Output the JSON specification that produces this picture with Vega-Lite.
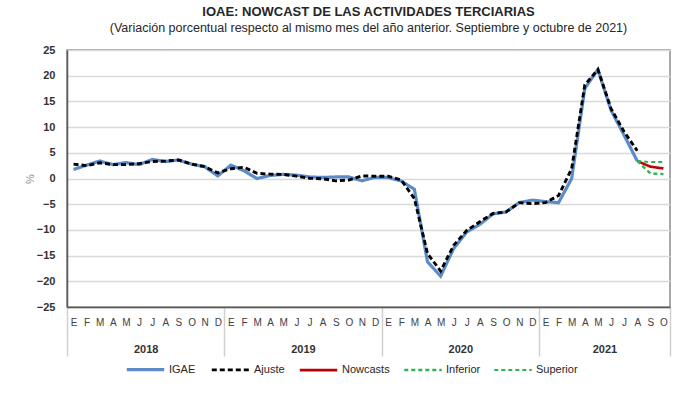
{
  "$schema": "https://vega.github.io/schema/vega-lite/v6.json",
  "width": 603,
  "height": 257,
  "padding": {"left": 24, "top": 5, "right": 10, "bottom": 5},
  "background": "white",
  "title": {
    "text": "IOAE: NOWCAST DE LAS ACTIVIDADES TERCIARIAS",
    "subtitle": "(Variación porcentual respecto al mismo mes del año anterior. Septiembre y octubre de 2021)",
    "anchor": "middle",
    "font": "Liberation Sans",
    "fontSize": 13,
    "fontWeight": "bold",
    "color": "#262626",
    "subtitleFont": "Liberation Sans",
    "subtitleFontSize": 12.5,
    "subtitleColor": "#262626",
    "subtitlePadding": 3,
    "offset": 10
  },
  "config": {
    "font": "Liberation Sans",
    "view": {"stroke": "#8c8c8c", "strokeWidth": 1.5}
  },
  "data": {
    "values": [
      {"i": 0, "serie": "IGAE", "v": 1.75}, {"i": 1, "serie": "IGAE", "v": 2.6}, {"i": 2, "serie": "IGAE", "v": 3.4}, {"i": 3, "serie": "IGAE", "v": 2.7}, {"i": 4, "serie": "IGAE", "v": 3.1}, {"i": 5, "serie": "IGAE", "v": 2.7}, {"i": 6, "serie": "IGAE", "v": 3.7}, {"i": 7, "serie": "IGAE", "v": 3.3}, {"i": 8, "serie": "IGAE", "v": 3.6}, {"i": 9, "serie": "IGAE", "v": 2.8}, {"i": 10, "serie": "IGAE", "v": 2.3}, {"i": 11, "serie": "IGAE", "v": 0.5},
      {"i": 12, "serie": "IGAE", "v": 2.6}, {"i": 13, "serie": "IGAE", "v": 1.5}, {"i": 14, "serie": "IGAE", "v": 0.0}, {"i": 15, "serie": "IGAE", "v": 0.6}, {"i": 16, "serie": "IGAE", "v": 0.8}, {"i": 17, "serie": "IGAE", "v": 0.65}, {"i": 18, "serie": "IGAE", "v": 0.3}, {"i": 19, "serie": "IGAE", "v": 0.2}, {"i": 20, "serie": "IGAE", "v": 0.3}, {"i": 21, "serie": "IGAE", "v": 0.3}, {"i": 22, "serie": "IGAE", "v": -0.45}, {"i": 23, "serie": "IGAE", "v": 0.2},
      {"i": 24, "serie": "IGAE", "v": 0.2}, {"i": 25, "serie": "IGAE", "v": -0.5}, {"i": 26, "serie": "IGAE", "v": -2.1}, {"i": 27, "serie": "IGAE", "v": -16.2}, {"i": 28, "serie": "IGAE", "v": -19.0}, {"i": 29, "serie": "IGAE", "v": -13.6}, {"i": 30, "serie": "IGAE", "v": -10.4}, {"i": 31, "serie": "IGAE", "v": -8.9}, {"i": 32, "serie": "IGAE", "v": -6.9}, {"i": 33, "serie": "IGAE", "v": -6.5}, {"i": 34, "serie": "IGAE", "v": -4.7}, {"i": 35, "serie": "IGAE", "v": -4.2},
      {"i": 36, "serie": "IGAE", "v": -4.5}, {"i": 37, "serie": "IGAE", "v": -4.7}, {"i": 38, "serie": "IGAE", "v": 0.0}, {"i": 39, "serie": "IGAE", "v": 17.5}, {"i": 40, "serie": "IGAE", "v": 21.2}, {"i": 41, "serie": "IGAE", "v": 13.3}, {"i": 42, "serie": "IGAE", "v": 8.4}, {"i": 43, "serie": "IGAE", "v": 3.4},
      {"i": 0, "serie": "Ajuste", "v": 2.8}, {"i": 1, "serie": "Ajuste", "v": 2.5}, {"i": 2, "serie": "Ajuste", "v": 3.05}, {"i": 3, "serie": "Ajuste", "v": 2.7}, {"i": 4, "serie": "Ajuste", "v": 2.7}, {"i": 5, "serie": "Ajuste", "v": 2.9}, {"i": 6, "serie": "Ajuste", "v": 3.3}, {"i": 7, "serie": "Ajuste", "v": 3.4}, {"i": 8, "serie": "Ajuste", "v": 3.6}, {"i": 9, "serie": "Ajuste", "v": 2.8}, {"i": 10, "serie": "Ajuste", "v": 2.3}, {"i": 11, "serie": "Ajuste", "v": 1.1},
      {"i": 12, "serie": "Ajuste", "v": 1.9}, {"i": 13, "serie": "Ajuste", "v": 2.2}, {"i": 14, "serie": "Ajuste", "v": 1.0}, {"i": 15, "serie": "Ajuste", "v": 0.85}, {"i": 16, "serie": "Ajuste", "v": 0.8}, {"i": 17, "serie": "Ajuste", "v": 0.45}, {"i": 18, "serie": "Ajuste", "v": 0.05}, {"i": 19, "serie": "Ajuste", "v": -0.05}, {"i": 20, "serie": "Ajuste", "v": -0.45}, {"i": 21, "serie": "Ajuste", "v": -0.3}, {"i": 22, "serie": "Ajuste", "v": 0.5}, {"i": 23, "serie": "Ajuste", "v": 0.45},
      {"i": 24, "serie": "Ajuste", "v": 0.45}, {"i": 25, "serie": "Ajuste", "v": -0.3}, {"i": 26, "serie": "Ajuste", "v": -3.9}, {"i": 27, "serie": "Ajuste", "v": -14.6}, {"i": 28, "serie": "Ajuste", "v": -18.0}, {"i": 29, "serie": "Ajuste", "v": -13.0}, {"i": 30, "serie": "Ajuste", "v": -10.1}, {"i": 31, "serie": "Ajuste", "v": -8.4}, {"i": 32, "serie": "Ajuste", "v": -6.8}, {"i": 33, "serie": "Ajuste", "v": -6.5}, {"i": 34, "serie": "Ajuste", "v": -4.7}, {"i": 35, "serie": "Ajuste", "v": -4.9},
      {"i": 36, "serie": "Ajuste", "v": -4.7}, {"i": 37, "serie": "Ajuste", "v": -3.3}, {"i": 38, "serie": "Ajuste", "v": 1.9}, {"i": 39, "serie": "Ajuste", "v": 18.2}, {"i": 40, "serie": "Ajuste", "v": 21.2}, {"i": 41, "serie": "Ajuste", "v": 13.6}, {"i": 42, "serie": "Ajuste", "v": 9.1}, {"i": 43, "serie": "Ajuste", "v": 5.4},
      {"i": 43, "serie": "Nowcasts", "v": 3.4}, {"i": 44, "serie": "Nowcasts", "v": 2.3}, {"i": 45, "serie": "Nowcasts", "v": 1.95},
      {"i": 43, "serie": "Inferior", "v": 3.4}, {"i": 44, "serie": "Inferior", "v": 1.0}, {"i": 45, "serie": "Inferior", "v": 0.85},
      {"i": 43, "serie": "Superior", "v": 3.4}, {"i": 44, "serie": "Superior", "v": 3.2}, {"i": 45, "serie": "Superior", "v": 3.2}
    ]
  },
  "encoding": {
    "y": {
      "field": "v",
      "type": "quantitative",
      "scale": {"domain": [-25, 25], "nice": false, "zero": false},
      "axis": {
        "title": "%",
        "titleColor": "#8c8c8c",
        "titleFontWeight": "normal",
        "titleFontSize": 11,
        "titlePadding": 1,
        "values": [-25, -20, -15, -10, -5, 0, 5, 10, 15, 20, 25],
        "labelFontWeight": "bold",
        "labelFontSize": 11,
        "labelColor": "#333333",
        "labelPadding": 12,
        "ticks": false,
        "domainColor": "#595959",
        "domainWidth": 1.5,
        "gridColor": "#d9d9d9",
        "gridWidth": 1.5
      }
    },
    "color": {
      "field": "serie",
      "type": "nominal",
      "scale": {
        "domain": ["IGAE", "Ajuste", "Nowcasts", "Inferior", "Superior"],
        "range": ["#5b8cc8", "#000000", "#c00000", "#2fb350", "#2fb350"]
      },
      "legend": {
        "title": null,
        "orient": "none",
        "direction": "horizontal",
        "legendX": 58,
        "legendY": 299,
        "symbolType": "stroke",
        "symbolSize": 1400,
        "symbolStrokeWidth": 3,
        "labelFontSize": 11,
        "labelColor": "#262626",
        "labelOffset": 3,
        "columnPadding": 9
      }
    },
    "strokeDash": {
      "field": "serie",
      "type": "nominal",
      "scale": {
        "domain": ["IGAE", "Ajuste", "Nowcasts", "Inferior", "Superior"],
        "range": [[1, 0], [5, 3], [1, 0], [4, 3], [4, 3]]
      },
      "legend": null
    },
    "strokeWidth": {
      "field": "serie",
      "type": "nominal",
      "scale": {
        "domain": ["IGAE", "Ajuste", "Nowcasts", "Inferior", "Superior"],
        "range": [3.2, 2, 3, 1.6, 1.6]
      },
      "legend": null
    }
  },
  "layer": [
    {
      "transform": [{"filter": "datum.serie === 'IGAE'"}],
      "mark": {"type": "line"},
      "encoding": {
        "x": {
          "field": "i",
          "type": "quantitative",
          "scale": {"domain": [-0.5, 45.5], "nice": false, "zero": false},
          "axis": {
            "orient": "bottom",
            "title": null,
            "values": [0,1,2,3,4,5,6,7,8,9,10,11,12,13,14,15,16,17,18,19,20,21,22,23,24,25,26,27,28,29,30,31,32,33,34,35,36,37,38,39,40,41,42,43,44,45],
            "labelExpr": "['E','F','M','A','M','J','J','A','S','O','N','D'][datum.value % 12]",
            "labelFontSize": 10,
            "labelColor": "#404040",
            "labelPadding": 10,
            "labelFlush": false,
            "labelOverlap": false,
            "ticks": false,
            "grid": false,
            "domainColor": "#595959",
            "domainWidth": 1.5,
            "zindex": 2
          }
        }
      }
    },
    {
      "transform": [{"filter": "datum.serie === 'Ajuste'"}],
      "mark": {"type": "line"},
      "encoding": {
        "x": {
          "field": "i",
          "type": "quantitative",
          "axis": {
            "orient": "bottom",
            "title": null,
            "values": [5.5, 17.5, 29.5, 40.5],
            "labelExpr": "datum.value < 12 ? '2018' : datum.value < 24 ? '2019' : datum.value < 36 ? '2020' : '2021'",
            "labelFontSize": 11,
            "labelFontWeight": "bold",
            "labelColor": "#333333",
            "labelPadding": 36,
            "labelFlush": false,
            "ticks": false,
            "grid": false,
            "domain": false
          }
        }
      }
    },
    {
      "transform": [{"filter": "datum.serie !== 'IGAE' && datum.serie !== 'Ajuste'"}],
      "mark": {"type": "line"},
      "encoding": {
        "x": {
          "field": "i",
          "type": "quantitative",
          "axis": {
            "orient": "bottom",
            "title": null,
            "values": [-0.5, 11.5, 23.5, 35.5, 45.5],
            "labels": false,
            "ticks": true,
            "tickSize": 49,
            "tickColor": "#d0d0d0",
            "tickWidth": 1.5,
            "grid": false,
            "domain": false
          }
        }
      }
    }
  ],
  "resolve": {"axis": {"x": "independent"}}
}
